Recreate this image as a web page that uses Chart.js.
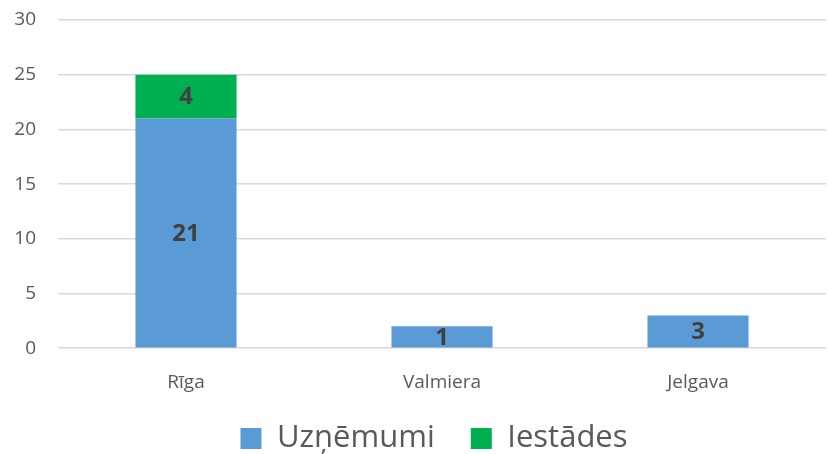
<!DOCTYPE html>
<html><head><meta charset="utf-8">
<script src="https://cdn.jsdelivr.net/npm/chart.js@4/dist/chart.umd.min.js"></script>
<style>html,body{margin:0;padding:0;background:#fff;}#wrap{width:828px;height:454px;}</style>
</head><body><div id="wrap"><canvas id="c" width="828" height="454"></canvas></div>
<script>
const categories = ['Rīga', 'Valmiera', 'Jelgava'];
const uznemumi = [21, 2, 3];
const iestades = [4, 0, 0];
const uznemumiLabels = ['21', '1', '3'];
const iestadesLabels = ['4', '', ''];
const yTicks = [0, 5, 10, 15, 20, 25, 30];

const labelPlugin = {
  id: 'barLabels',
  afterLayout(chart) {
    if (chart.legend) { chart.legend.left += 17; chart.legend.right += 17; }
    if (chart.scales.x) { chart.scales.x.bottom += 30; }
  },
  afterDatasetsDraw(chart) {
    const ctx = chart.ctx;
    const sets = [uznemumiLabels, iestadesLabels];
    chart.data.datasets.forEach((ds, di) => {
      const meta = chart.getDatasetMeta(di);
      meta.data.forEach((bar, i) => {
        const t = sets[di][i];
        if (!t) return;
        const p = bar.getProps(['x', 'y', 'base'], true);
        ctx.save();
        ctx.font = 'bold 24px "Open Sans", Lato, sans-serif';
        ctx.fillStyle = '#404040';
        ctx.textAlign = 'center';
        ctx.textBaseline = 'middle';
        ctx.fillText(t, p.x, (p.y + p.base) / 2 + 1);
        ctx.restore();
      });
    });
  }
};

new Chart(document.getElementById('c'), {
  type: 'bar',
  data: {
    labels: categories,
    datasets: [
      { label: 'Uzņēmumi', data: uznemumi, backgroundColor: '#5b9bd5', borderWidth: 0 },
      { label: 'Iestādes', data: iestades, backgroundColor: '#00b050', borderWidth: 0 }
    ]
  },
  options: {
    responsive: false,
    animation: false,
    layout: { padding: { left: 8, right: 2, top: 20, bottom: -10 } },
    datasets: { bar: { barPercentage: 0.395, categoryPercentage: 1 } },
    scales: {
      x: {
        stacked: true,
        afterFit(axis) { axis.height -= 30; },
        grid: { display: false, drawTicks: false },
        border: { display: false },
        ticks: { color: '#595959', font: { size: 19, family: '"Open Sans", Lato, sans-serif' }, padding: 23 }
      },
      y: {
        stacked: true,
        min: 0, max: 30,
        afterBuildTicks(axis) { axis.ticks = yTicks.map(v => ({ value: v })); },
        afterFit(axis) { axis.width = 50; axis.paddingTop = 0; axis.paddingBottom = 0; },
        grid: { color: '#d9d9d9', lineWidth: 1.5, drawTicks: false },
        border: { display: false },
        ticks: { color: '#595959', font: { size: 19, family: '"Open Sans", Lato, sans-serif' }, padding: 22 }
      }
    },
    plugins: {
      legend: {
        position: 'bottom',
        labels: {
          color: '#595959',
          font: { size: 31, family: '"Open Sans", Lato, sans-serif' },
          boxWidth: 21, boxHeight: 21, padding: 36
        }
      },
      tooltip: { enabled: false }
    }
  },
  plugins: [labelPlugin]
});
</script>
</body></html>
